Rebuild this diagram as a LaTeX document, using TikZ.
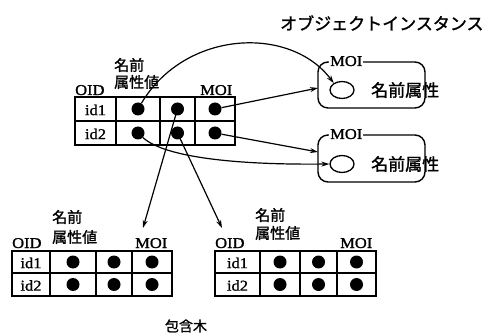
\documentclass[tikz,border=0pt]{standalone}
\usepackage{fontspec}
\setmainfont{Liberation Serif}
\newfontfamily\lat[FakeStretch=1.1,FakeBold=1.2]{Liberation Serif}
\newfontfamily\jp{Noto Sans CJK JP}[FakeBold=1.5]
\usetikzlibrary{arrows.meta,calc,shapes.geometric}
\tikzset{
 dot/.style={circle,fill=black,inner sep=0pt,minimum size=13pt},
 lab/.style={inner sep=0pt,font=\lat\fontsize{15}{15}\selectfont},
 jlab/.style={inner sep=0pt,font=\jp\fontsize{15}{15}\selectfont},
 jbig/.style={inner sep=0pt,font=\jp\fontsize{17}{17}\selectfont},
 tbl/.style={line width=1.5pt},
 arr/.style={line width=1.2pt,-{Stealth[length=8pt,width=5pt]}},
 obox/.style={draw,line width=1.4pt,rounded corners=10pt,minimum width=107pt,minimum height=46pt,inner sep=0pt},
 ell/.style={draw,ellipse,line width=1.3pt,minimum width=24pt,minimum height=17pt,inner sep=0pt},
}
\newcommand\drawtbl[9]{%
 \draw[tbl] (#2,#7) rectangle (#6,#9);
 \draw[tbl] (#2,#8) -- (#6,#8);
 \draw[tbl] (#3,#7) -- (#3,#9) (#4,#7) -- (#4,#9) (#5,#7) -- (#5,#9);
 \node[lab] (#1-id1) at ($(#2,#7)!0.5!(#3,#8)+(0,1)$) {id1};
 \node[lab] (#1-id2) at ($(#2,#8)!0.5!(#3,#9)+(0,1)$) {id2};
 \node[dot] (#1-11) at ($(#3,#7)!0.5!(#4,#8)$) {};
 \node[dot] (#1-12) at ($(#4,#7)!0.5!(#5,#8)$) {};
 \node[dot] (#1-13) at ($(#5,#7)!0.5!(#6,#8)$) {};
 \node[dot] (#1-21) at ($(#3,#8)!0.5!(#4,#9)$) {};
 \node[dot] (#1-22) at ($(#4,#8)!0.5!(#5,#9)$) {};
 \node[dot] (#1-23) at ($(#5,#8)!0.5!(#6,#9)$) {};
}
\begin{document}
\begin{tikzpicture}[x=1pt,y=-1pt]
\useasboundingbox (0,0) rectangle (494,336);
% title
\node[jbig,anchor=west] (title) at (280,23) {オブジェクトインスタンス};
% top table
\drawtbl{t}{75}{116}{160}{195}{235}{97}{121}{145}
\node[lab,anchor=base west] (tOID) at (75,95) {OID};
\node[lab,anchor=base west] (tMOI) at (200,95) {MOI};
\node[jlab,anchor=west] (tname) at (114,65) {名前};
\node[jlab,anchor=west] (tattr) at (114,82) {属性値};
% bottom-left table
\drawtbl{l}{12}{50}{96}{132}{172}{251}{273}{296}
\node[lab,anchor=base west] (lOID) at (12,248) {OID};
\node[lab,anchor=base west] (lMOI) at (135,248) {MOI};
\node[jlab,anchor=west] (lname) at (52,217) {名前};
\node[jlab,anchor=west] (lattr) at (52,237) {属性値};
% bottom-right table
\drawtbl{r}{215}{260}{300}{337}{376}{251}{273}{296}
\node[lab,anchor=base west] (rOID) at (215,248) {OID};
\node[lab,anchor=base west] (rMOI) at (340,248) {MOI};
\node[jlab,anchor=west] (rname) at (255,215) {名前};
\node[jlab,anchor=west] (rattr) at (255,233) {属性値};
% object instances
\node[obox] (b1) at (371.5,85) {};
\node[lab,fill=white,inner sep=1pt,anchor=base west] (m1) at (329,66) {MOI};
\node[ell] (e1) at (342,90) {};
\node[jbig,anchor=west] (n1) at (371,90) {名前属性};
\node[obox,minimum height=47pt] (b2) at (371.5,158.5) {};
\node[lab,fill=white,inner sep=1pt,anchor=base west] (m2) at (329,139) {MOI};
\node[ell] (e2) at (342,164) {};
\node[jbig,anchor=west] (n2) at (371,164) {名前属性};
% containment tree label
\node[inner sep=0pt,font=\jp\fontsize{14}{14}\selectfont] (tree) at (186,326) {包含木};
% connectors
\coordinate (b1in) at (318,88);
\coordinate (b2in) at (318,152);
\coordinate (tipL) at (143,228);
\coordinate (tipR) at (222,228);
\draw[arr] (t-11) .. controls (185,30) and (290,25) .. (e1.140);
\draw[arr] (t-13) -- (b1in);
\draw[arr] (t-23) -- (b2in);
\draw[arr] (t-21) .. controls (165,158) and (240,165) .. (e2.west);
\draw[arr] (t-12.center) -- (tipL);
\draw[arr] (t-22.center) -- (tipR);
\end{tikzpicture}
\end{document}
